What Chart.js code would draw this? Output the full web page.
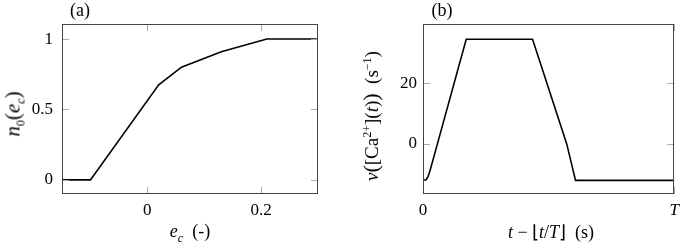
<!DOCTYPE html>
<html>
<head>
<meta charset="utf-8">
<script src="https://cdn.jsdelivr.net/npm/chart.js@4.4.1/dist/chart.umd.min.js"></script>
<style>
  html, body { margin: 0; padding: 0; background: #fff; }
  #wrap { position: relative; width: 685px; height: 245px; overflow: hidden; font-family: "Liberation Serif", serif; color: #000; }
  canvas { position: absolute; top: 0; }
  .lbl { position: absolute; font-size: 18px; white-space: nowrap; line-height: 1; }
  .rot { transform: translate(-50%, -50%) rotate(-90deg); }
  .hc { transform: translate(-50%, -50%); }
  sub, sup { font-size: 12px; line-height: 0; }
  .big { font-size: 22px; }
</style>
</head>
<body>
<div id="wrap">
  <canvas id="ca" width="340" height="245" style="left:0"></canvas>
  <canvas id="cb" width="345" height="245" style="left:340px"></canvas>
  <div class="lbl hc" style="left:80px; top:10px;">(a)</div>
  <div class="lbl hc" style="left:442px; top:10px;">(b)</div>
  <div class="lbl hc" style="left:190px; top:231px;"><i>e</i><sub><i>c</i></sub>&nbsp;&nbsp;(-)</div>
  <div class="lbl hc" style="left:551px; top:232px;"><i>t</i> − ⌊<i>t</i>/<i>T</i>⌋ &nbsp;(s)</div>
  <div class="lbl rot" style="left:13px; top:114px; font-size:21px;"><i>n</i><sub>0</sub>(<i>e</i><sub><i>c</i></sub>)</div>
  <div class="lbl rot" style="left:371px; top:116px; font-size:19px;"><i>ν</i><span class="big">(</span>[Ca<sup>2+</sup>](<i>t</i>)<span class="big">)</span>&nbsp;&nbsp;(s<sup>−1</sup>)</div>
</div>
<script>
// ---- data ----
const ecValues = [-0.15, -0.1, 0.02, 0.06, 0.13, 0.21, 0.3];
const n0Values = [0, 0, 0.675, 0.8, 0.91, 1, 1];
const xTicksA = [0, 0.2];
const yTicksA = [0, 0.5, 1];

const tValues  = [0, 0.012, 0.02, 0.028, 0.172, 0.436, 0.572, 0.607, 1];
const nuValues = [-12, -11.8, -10.8, -8.8, 34.5, 34.5, 0, -12, -12];
const xTicksB = [0, 1];
const xTickLabelsB = ['0', 'T'];
const yTicksB = [0, 20];

Chart.defaults.font.family = '"Liberation Serif", serif';
Chart.defaults.font.size = 17;
Chart.defaults.color = '#000';

const framePlugin = {
  id: 'frame',
  afterDraw(chart) {
    const ctx = chart.ctx, a = chart.chartArea;
    ctx.save();
    ctx.strokeStyle = '#aaa';
    ctx.lineWidth = 1;
    const L = 7;
    const xs = chart.scales.x, ys = chart.scales.y;
    ctx.beginPath();
    xs.ticks.forEach(t => {
      const p = Math.round(xs.getPixelForValue(t.value)) + 0.5;
      ctx.moveTo(p, a.bottom); ctx.lineTo(p, a.bottom - L);
      ctx.moveTo(p, a.top); ctx.lineTo(p, a.top + L);
    });
    ys.ticks.forEach(t => {
      const p = Math.round(ys.getPixelForValue(t.value)) + 0.5;
      ctx.moveTo(a.left, p); ctx.lineTo(a.left + L, p);
      ctx.moveTo(a.right, p); ctx.lineTo(a.right - L, p);
    });
    ctx.stroke();
    ctx.strokeStyle = '#444';
    ctx.lineWidth = 1;
    ctx.strokeRect(Math.round(a.left) + 0.5, Math.round(a.top) + 0.5,
                   Math.round(a.right - a.left) - 1, Math.round(a.bottom - a.top) - 1);
    ctx.restore();
  }
};

function makeChart(id, xs, ys, opts) {
  const pts = xs.map((x, i) => ({ x: x, y: ys[i] }));
  return new Chart(document.getElementById(id), {
    type: 'line',
    data: { datasets: [{ data: pts, borderColor: '#000', borderWidth: 1.6, pointRadius: 0, tension: 0, fill: false }] },
    options: {
      responsive: false,
      animation: false,
      devicePixelRatio: 1,
      layout: { padding: opts.padding },
      plugins: { legend: { display: false }, tooltip: { enabled: false } },
      scales: {
        x: {
          type: 'linear', min: opts.xmin, max: opts.xmax,
          grid: { display: false, drawTicks: false }, border: { display: false },
          afterBuildTicks: s => { s.ticks = opts.xticks.map(v => ({ value: v })); },
          afterFit: s => { s.height = 51; },
          ticks: { padding: 6, maxRotation: 0, autoSkip: false, callback: opts.xcb, font: opts.xfont }
        },
        y: {
          type: 'linear', min: opts.ymin, max: opts.ymax,
          grid: { display: false, drawTicks: false }, border: { display: false },
          afterBuildTicks: s => { s.ticks = opts.yticks.map(v => ({ value: v })); },
          afterFit: s => { s.width = opts.yw; },
          ticks: { padding: opts.ypad, autoSkip: false, callback: v => String(v) }
        }
      }
    },
    plugins: [framePlugin]
  });
}

makeChart('ca', ecValues, n0Values, {
  padding: { top: 24, right: 22, left: 0, bottom: 0 },
  xmin: -0.15, xmax: 0.3, ymin: -0.1, ymax: 1.107,
  xticks: xTicksA, yticks: yTicksA, yw: 62, ypad: 9,
  xcb: v => String(v)
});

makeChart('cb', tValues, nuValues, {
  padding: { top: 24, right: 6, left: 0, bottom: 0 },
  xmin: 0, xmax: 1, ymin: -16.5, ymax: 39.5,
  xticks: xTicksB, yticks: yTicksB, yw: 83, ypad: 6,
  xcb: v => xTickLabelsB[xTicksB.indexOf(v)],
  xfont: ctx => ({ style: (ctx.tick && ctx.tick.value === 1) ? 'italic' : 'normal' })
});
</script>
</body>
</html>
